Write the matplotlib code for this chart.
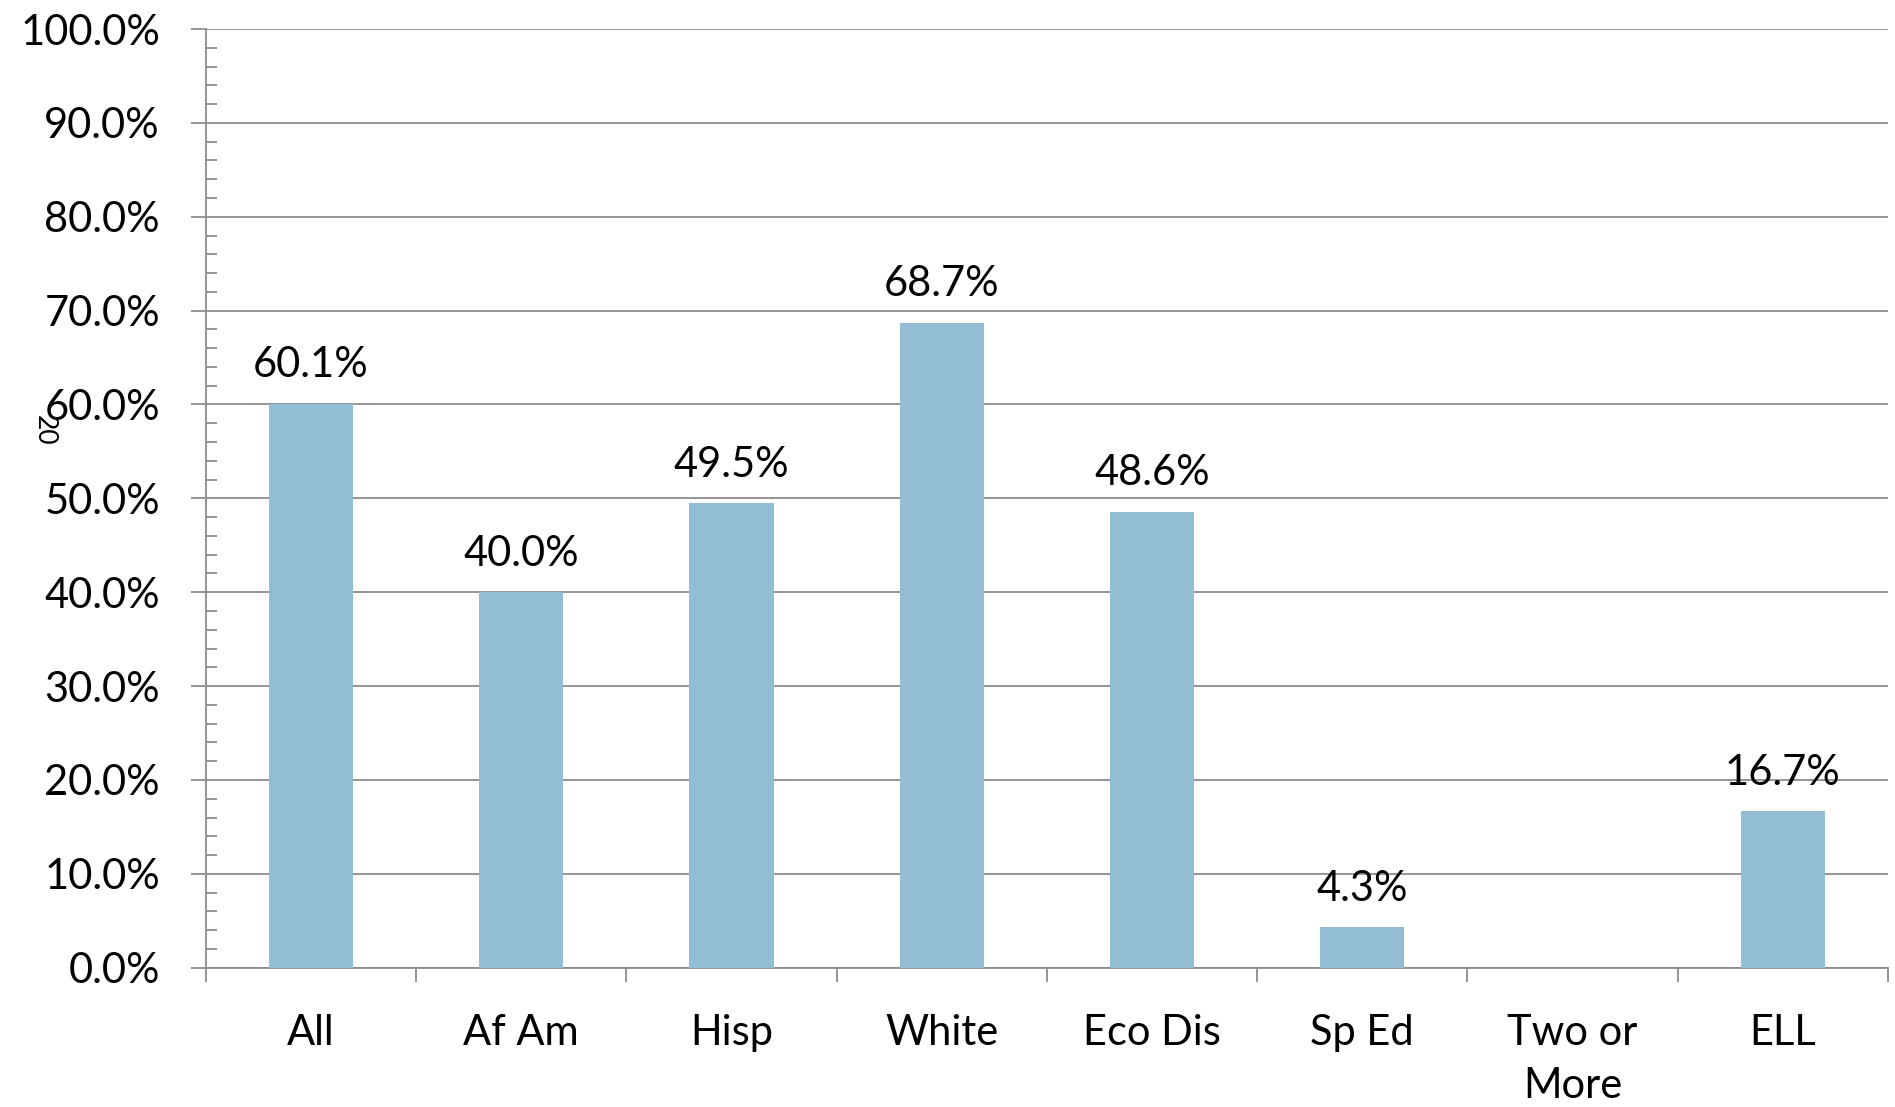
import numpy as np
import matplotlib.pyplot as plt
from matplotlib.ticker import MultipleLocator, PercentFormatter

plt.rcParams['font.family'] = ['Lato', 'DejaVu Sans']

# Datos
categorias = ['All', 'Af Am', 'Hisp', 'White', 'Eco Dis', 'Sp Ed', 'Two or\nMore', 'ELL']
valores = [60.1, 40.0, 49.5, 68.7, 48.6, 4.3, None, 16.7]

gris = '#8c8c8c'
azul = '#93bdd5'

fig = plt.figure(figsize=(18.95, 11.07), dpi=100)
ax = fig.add_axes([0.1086, 0.1258, 0.8877, 0.848])

x = np.arange(len(categorias))
alturas = [v if v is not None else 0 for v in valores]
barras = ax.bar(x, alturas, width=0.4, color=azul, zorder=3)

# Etiquetas de valor
for xi, v in zip(x, valores):
    if v is None:
        continue
    ax.annotate(f'{v:.1f}%', (xi, v), xytext=(0, 14), textcoords='offset points',
                ha='center', va='bottom', fontsize=30, color='black', zorder=4)

ax.set_xlim(-0.5, len(categorias) - 0.5)
ax.set_ylim(0, 100)

# Eje y
ax.yaxis.set_major_locator(MultipleLocator(10))
ax.yaxis.set_minor_locator(MultipleLocator(2))
ax.yaxis.set_major_formatter(PercentFormatter(decimals=1))
ax.tick_params(axis='y', which='major', direction='out', length=11, width=1.3,
               color=gris, labelsize=30, pad=22)
ax.tick_params(axis='y', which='minor', direction='in', length=8, width=1.3, color=gris)
ax.grid(axis='y', which='major', color=gris, linewidth=1.3, zorder=0)

# Eje x: marcas entre categorias
ax.set_xticks(np.arange(len(categorias) + 1) - 0.5)
ax.set_xticklabels([])
ax.set_xticks(x, minor=True)
ax.set_xticklabels(categorias, minor=True, fontsize=30, linespacing=1.5)
ax.tick_params(axis='x', which='major', direction='out', length=10, width=1.3, color=gris)
ax.tick_params(axis='x', which='minor', length=0, pad=33)

for lado in ['top', 'right']:
    ax.spines[lado].set_visible(False)
for lado in ['left', 'bottom']:
    ax.spines[lado].set_color(gris)
    ax.spines[lado].set_linewidth(1.3)

# Texto suelto rotado junto al eje
fig.text(44 / 1895, 1 - 430 / 1107, '20', rotation=-90, fontsize=19,
         ha='center', va='center')

fig.savefig('out.png', dpi=100)
